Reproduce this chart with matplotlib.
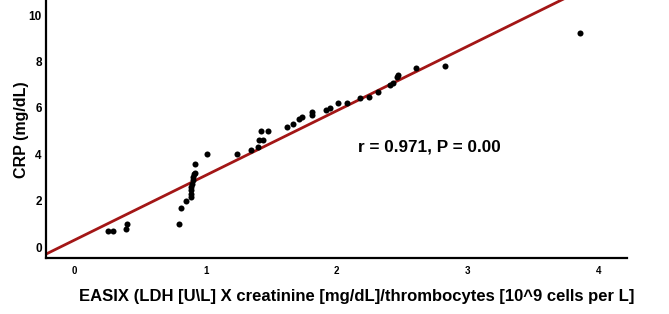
import numpy as np
import matplotlib
matplotlib.use('Agg')
from matplotlib import pyplot as plt

# EASIX values (x) and CRP values (y)
easix = [0.25, 0.29, 0.39, 0.40, 0.80, 0.81, 0.85,
         0.89, 0.89, 0.89, 0.89, 0.895, 0.90, 0.905, 0.91, 0.915,
         0.92, 1.01, 1.24, 1.35, 1.40, 1.41, 1.44, 1.425, 1.48,
         1.62, 1.67, 1.71, 1.74, 1.81, 1.81, 1.92, 1.95, 2.01, 2.08,
         2.18, 2.25, 2.32, 2.41, 2.43, 2.46, 2.47, 2.61, 2.83, 3.86]
crp = [0.68, 0.68, 0.76, 0.99, 0.98, 1.67, 1.98,
       2.17, 2.31, 2.46, 2.60, 2.74, 2.89, 3.03, 3.15, 3.20,
       3.60, 4.00, 4.00, 4.18, 4.32, 4.61, 4.61, 5.00, 5.00,
       5.19, 5.29, 5.52, 5.59, 5.69, 5.81, 5.90, 5.98, 6.19, 6.22,
       6.41, 6.48, 6.69, 6.98, 7.08, 7.31, 7.41, 7.70, 7.82, 9.21]

# fitted line as drawn in the figure
intercept = 0.31
slope = 2.78

xticks = [0, 1, 2, 3, 4]
yticks = [0, 2, 4, 6, 8, 10]
annot = 'r = 0.971, P = 0.00'

fig = plt.figure(figsize=(6.69, 3.14), dpi=100)
ax = fig.add_axes([46 / 669, 56 / 314, 581 / 669, 258 / 314])

ax.scatter(easix, crp, s=19, color='black', zorder=3, linewidths=0)
xl = np.array([-0.3, 4.3])
ax.plot(xl, intercept + slope * xl, color='#a31616', linewidth=2.0, zorder=2)

ax.set_xlim(-0.22, 4.22)
ax.set_ylim(-0.47, 10.65)
ax.set_xticks(xticks)
ax.set_yticks(yticks)
ax.set_xticklabels([str(t) for t in xticks], fontsize=7, fontweight='bold',
                   family='Liberation Sans')
ax.set_yticklabels([str(t) for t in yticks], fontsize=8.5, fontweight='bold',
                   family='Liberation Sans')
ax.tick_params(length=0, pad=3)
ax.tick_params(axis='x', pad=6)

for s in ['top', 'right']:
    ax.spines[s].set_visible(False)
for s in ['left', 'bottom']:
    ax.spines[s].set_linewidth(1.6)

ax.text(2.165, 4.3, annot, fontsize=12.3, fontweight='bold', va='center',
        family='Liberation Sans')

fig.text(22 / 669, 1 - 130 / 314, 'CRP (mg/dL)', rotation=90, ha='center', va='center',
         fontsize=11.5, fontweight='bold', family='Liberation Sans')
fig.text(357 / 669, 1 - 297 / 314,
         'EASIX (LDH [U\\L] X creatinine [mg/dL]/thrombocytes [10^9 cells per L]',
         ha='center', va='center', fontsize=12, fontweight='bold', family='Liberation Sans')

fig.savefig('out.png', dpi=100)
